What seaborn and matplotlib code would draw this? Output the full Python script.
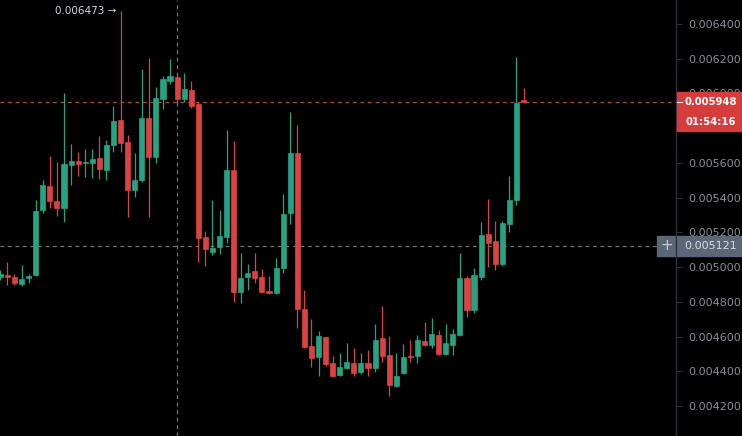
import numpy as np
import seaborn as sns
import matplotlib.pyplot as plt
from matplotlib.patches import Rectangle

# candle data (oldest -> newest)
opens = [0.004943, 0.004954, 0.004943, 0.004903, 0.004937, 0.004954, 0.005329, 0.005467, 0.005381, 0.005340,
         0.005588, 0.005611, 0.005600, 0.005600, 0.005628, 0.005559, 0.005703, 0.005847, 0.005720, 0.005444,
         0.005502, 0.005859, 0.005634, 0.005968, 0.006072, 0.006095, 0.005968, 0.006020, 0.005939, 0.005173,
         0.005087, 0.005116, 0.005173, 0.005559, 0.004857, 0.004943, 0.004978, 0.004943, 0.004862, 0.004851,
         0.004995, 0.005312, 0.005657, 0.004759, 0.004546, 0.004482, 0.004597, 0.004448, 0.004379, 0.004419,
         0.004448, 0.004396, 0.004448, 0.004419, 0.004592, 0.004494, 0.004315, 0.004390, 0.004488, 0.004488,
         0.004574, 0.004551, 0.004609, 0.004500, 0.004551, 0.004609, 0.004937, 0.004753, 0.004943, 0.005191,
         0.005150, 0.005018, 0.005248, 0.005386, 0.005962]
highs = [0.004983, 0.005029, 0.004960, 0.005012, 0.004960, 0.005386, 0.005502, 0.005640, 0.005605, 0.006003,
         0.005709, 0.005663, 0.005680, 0.005680, 0.005755, 0.005732, 0.005928, 0.006473, 0.005761, 0.005657,
         0.006141, 0.006204, 0.006037, 0.006101, 0.006198, 0.006118, 0.006118, 0.006072, 0.005951, 0.005208,
         0.005386, 0.005329, 0.005790, 0.005726, 0.005081, 0.005018, 0.005081, 0.004989, 0.004949, 0.005052,
         0.005421, 0.005893, 0.005818, 0.004868, 0.004701, 0.004632, 0.004600, 0.004488, 0.004505, 0.004563,
         0.004534, 0.004505, 0.004523, 0.004672, 0.004776, 0.004603, 0.004505, 0.004557, 0.004580, 0.004609,
         0.004684, 0.004707, 0.004638, 0.004672, 0.004644, 0.005081, 0.004949, 0.004995, 0.005260, 0.005392,
         0.005265, 0.005265, 0.005525, 0.006210, 0.006031]
lows = [0.004926, 0.004897, 0.004897, 0.004891, 0.004908, 0.004949, 0.005312, 0.005340, 0.005294, 0.005260,
        0.005473, 0.005525, 0.005519, 0.005513, 0.005507, 0.005502, 0.005663, 0.005663, 0.005289, 0.005404,
        0.005490, 0.005289, 0.005600, 0.005910, 0.006054, 0.005945, 0.005951, 0.005916, 0.005029, 0.005006,
        0.005070, 0.005075, 0.005139, 0.004799, 0.004793, 0.004868, 0.004908, 0.004851, 0.004845, 0.004845,
        0.004966, 0.005248, 0.004649, 0.004534, 0.004425, 0.004373, 0.004430, 0.004367, 0.004373, 0.004413,
        0.004373, 0.004384, 0.004373, 0.004396, 0.004453, 0.004258, 0.004309, 0.004384, 0.004453, 0.004448,
        0.004546, 0.004534, 0.004494, 0.004494, 0.004494, 0.004603, 0.004713, 0.004736, 0.004926, 0.005001,
        0.004983, 0.005006, 0.005202, 0.005358, 0.005945]
closes = [0.004960, 0.004943, 0.004908, 0.004931, 0.004949, 0.005323, 0.005473, 0.005381, 0.005340, 0.005594,
          0.005611, 0.005594, 0.005605, 0.005623, 0.005565, 0.005703, 0.005841, 0.005715, 0.005444, 0.005502,
          0.005859, 0.005634, 0.005974, 0.006083, 0.006101, 0.005968, 0.006026, 0.005928, 0.005168, 0.005104,
          0.005110, 0.005179, 0.005559, 0.004857, 0.004937, 0.004966, 0.004937, 0.004857, 0.004851, 0.004995,
          0.005306, 0.005657, 0.004759, 0.004540, 0.004477, 0.004603, 0.004442, 0.004373, 0.004425, 0.004453,
          0.004390, 0.004448, 0.004419, 0.004580, 0.004488, 0.004321, 0.004373, 0.004482, 0.004482, 0.004580,
          0.004551, 0.004615, 0.004500, 0.004563, 0.004615, 0.004937, 0.004753, 0.004954, 0.005185, 0.005139,
          0.005018, 0.005254, 0.005386, 0.005945, 0.005948]

price_ticks = [0.0042, 0.0044, 0.0046, 0.0048, 0.0050, 0.0052, 0.0054, 0.0056, 0.0058, 0.0060, 0.0062, 0.0064]
hidden_ticks = [0.0058]  # covered by the countdown label in the screenshot
last_price = 0.005948
cross_price = 0.005121
cross_bar = 25
peak_price = 0.006473
peak_bar = 17
countdown = "01:54:16"

UP = "#26a382"
DOWN = "#dc4340"
BG = "#000000"

sns.set_theme(style="dark", rc={"axes.facecolor": BG, "figure.facecolor": BG})
plt.rcParams["font.family"] = ["DejaVu Sans"]

o = np.array(opens)
h = np.array(highs)
l = np.array(lows)
c = np.array(closes)
x = np.arange(len(o))
cols = [UP if cc >= oo else DOWN for oo, cc in zip(o, c)]

W, H = 742, 436
fig = plt.figure(figsize=(W / 100, H / 100), dpi=100)
ax = fig.add_axes([0, 0, 676 / W, 1])

# wicks + bodies
ax.vlines(x, l, h, colors=cols, linewidth=0.9, zorder=2)
ax.bar(x, np.abs(c - o), bottom=np.minimum(o, c), width=0.72,
       color=cols, edgecolor=cols, linewidth=0.5, zorder=3)

ax.set_xlim(-0.05, 676 / 7.07 - 0.05)
ax.set_ylim(0.0040273, 0.0065382)
ax.grid(False)

# price line + crosshair
ax.axhline(last_price, color="#d9504c", lw=0.9, dashes=(3, 3), alpha=0.85, zorder=1)
ax.axhline(cross_price, color="#8f939b", lw=0.9, dashes=(3, 3), alpha=0.8, zorder=1)
ax.axvline(cross_bar, color="#8f939b", lw=0.9, dashes=(3, 3), alpha=0.8, zorder=1)

ax.text(peak_bar - 0.6, peak_price, f"{peak_price:.6f} \u2192", ha="right", va="center",
        color="#d1d4dc", fontsize=7.5)

# right price scale
ax.set_xticks([])
ax.yaxis.tick_right()
ax.set_yticks(price_ticks)
ax.set_yticklabels(["" if p in hidden_ticks else f"{p:.6f}" for p in price_ticks])
ax.tick_params(axis="y", length=4, width=0.8, color="#2e323b", labelcolor="#8a8e97",
               labelsize=8, pad=5, right=True)
for s in ["top", "left", "bottom"]:
    ax.spines[s].set_visible(False)
ax.spines["right"].set_color("#2b2f38")
ax.spines["right"].set_linewidth(1)


def box(x0, y0, x1, y1, color):
    fig.add_artist(Rectangle((x0 / W, 1 - y1 / H), (x1 - x0) / W, (y1 - y0) / H,
                             transform=fig.transFigure, color=color, zorder=5))


# last price / countdown labels
box(677, 92, 742, 112, "#d63c3c")
box(677, 113, 742, 131, "#d63c3c")
fig.text(711 / W, 1 - 102 / H, f"{last_price:.6f}", ha="center", va="center",
         color="white", fontsize=7.2, fontweight="bold", zorder=6)
fig.text(711 / W, 1 - 122 / H, countdown, ha="center", va="center",
         color="white", fontsize=7.2, fontweight="bold", zorder=6)
fig.add_artist(plt.Line2D([677 / W, 682 / W], [1 - 102 / H, 1 - 102 / H],
                          transform=fig.transFigure, color="white", lw=0.8, zorder=6))

# crosshair price label
box(657, 236, 742, 256, "#5b6679")
fig.add_artist(plt.Line2D([676 / W, 676 / W], [1 - 236 / H, 1 - 256 / H],
                          transform=fig.transFigure, color="#2b2f38", lw=1, zorder=6))
fig.text(666.5 / W, 1 - 246 / H, "+", ha="center", va="center",
         color="#c8ccd4", fontsize=11, zorder=6)
fig.text(711 / W, 1 - 246 / H, f"{cross_price:.6f}", ha="center", va="center",
         color="#d8dbe2", fontsize=8, zorder=6)

fig.savefig("out.png", dpi=100, facecolor=BG)
